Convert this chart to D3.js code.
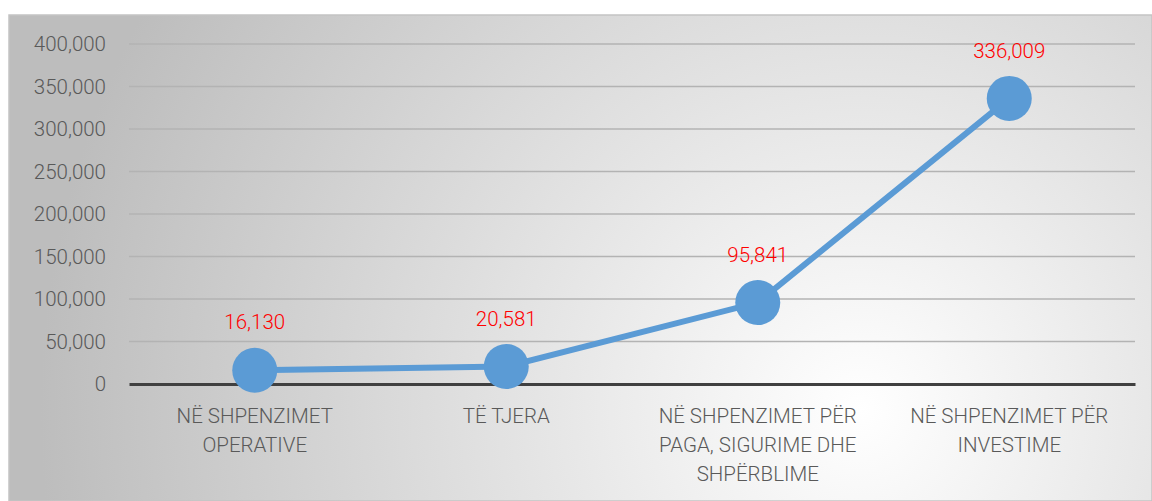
<!DOCTYPE html>
<html><head><meta charset="utf-8">
<script src="https://cdn.jsdelivr.net/npm/d3@7"></script>
<style>html,body{margin:0;padding:0;background:#fff;}svg{display:block;}</style>
</head><body><svg id="c" width="1152" height="501"></svg>
<script>
const categories = ["NË SHPENZIMET OPERATIVE", "TË TJERA", "NË SHPENZIMET PËR PAGA, SIGURIME DHE SHPËRBLIME", "NË SHPENZIMET PËR INVESTIME"];
const values = [16130, 20581, 95841, 336009];
const yTicks = [0, 50000, 100000, 150000, 200000, 250000, 300000, 350000, 400000];

const svg = d3.select("#c");
const W = 1152, H = 501;
const font = "Roboto, 'Liberation Sans', sans-serif";
const fs = 20.5;

const defs = svg.append("defs");
const g = defs.append("radialGradient").attr("id","bg")
  .attr("gradientUnits","userSpaceOnUse").attr("cx",860).attr("cy",410).attr("r",820);
g.append("stop").attr("offset","0").attr("stop-color","#ffffff");
g.append("stop").attr("offset","1").attr("stop-color","#bdbdbd");

svg.append("rect").attr("x",9).attr("y",15).attr("width",W-9).attr("height",H-15)
  .attr("fill","url(#bg)").attr("stroke","#c4c4c4").attr("stroke-width",1.5);

const x = d3.scaleBand().domain(categories).range([129,1135]);
const y = d3.scaleLinear().domain([0,400000]).range([384,44]);

// gridlines
svg.append("g").selectAll("line").data(yTicks.filter(d=>d>0)).join("line")
  .attr("x1",129).attr("x2",1135).attr("y1",d=>y(d)).attr("y2",d=>y(d))
  .attr("stroke","#b3b3b3").attr("stroke-width",1.5);

// y axis labels
const yAxis = d3.axisLeft(y).tickValues(yTicks).tickSize(0).tickPadding(0)
  .tickFormat(d3.format(","));
const ya = svg.append("g").attr("transform","translate(106,0)").call(yAxis);
ya.select(".domain").remove();
ya.selectAll("text").attr("font-family",font).attr("font-size",fs).attr("fill","#595959")
  .attr("font-weight",300);

// x axis
const xAxis = d3.axisBottom(x).tickSize(0).tickPadding(0);
const xa = svg.append("g").attr("transform","translate(0,384)").call(xAxis);
xa.select(".domain").attr("stroke","#404040").attr("stroke-width",3);
xa.selectAll("text").attr("font-family",font).attr("font-size",fs).attr("fill","#595959")
  .attr("font-weight",300).attr("dy",null).attr("y",null)
  .each(function(d){
    const t = d3.select(this);
    const words = d.split(" ");
    t.text(null);
    const maxW = 235;
    let lines = [], cur = [];
    for (const w of words) {
      const test = cur.concat([w]).join(" ");
      t.text(test);
      if (this.getComputedTextLength() > maxW && cur.length) { lines.push(cur.join(" ")); cur=[w]; }
      else cur.push(w);
    }
    lines.push(cur.join(" "));
    t.text(null);
    lines.forEach((l,i)=>{
      t.append("tspan").attr("x",0).attr("y",32 + i*29).attr("dy","0.35em").text(l);
    });
  });

// line
const cx = d => x(d) + x.bandwidth()/2;
const data = categories.map((c,i)=>({c, v: values[i]}));
svg.append("path").datum(data)
  .attr("d", d3.line().x(d=>cx(d.c)).y(d=>y(d.v)))
  .attr("fill","none").attr("stroke","#5b9bd5").attr("stroke-width",6);
svg.append("g").selectAll("circle").data(data).join("circle")
  .attr("cx",d=>cx(d.c)).attr("cy",d=>y(d.v)).attr("r",22.5).attr("fill","#5b9bd5");

// data labels
svg.append("g").selectAll("text").data(data).join("text")
  .attr("x",d=>cx(d.c)).attr("y",d=>y(d.v)-48).attr("dy","0.35em")
  .attr("text-anchor","middle").attr("font-family",font).attr("font-size",fs)
  .attr("font-weight",300).attr("fill","#ff0000")
  .text(d=>d3.format(",")(d.v));
</script></body></html>
